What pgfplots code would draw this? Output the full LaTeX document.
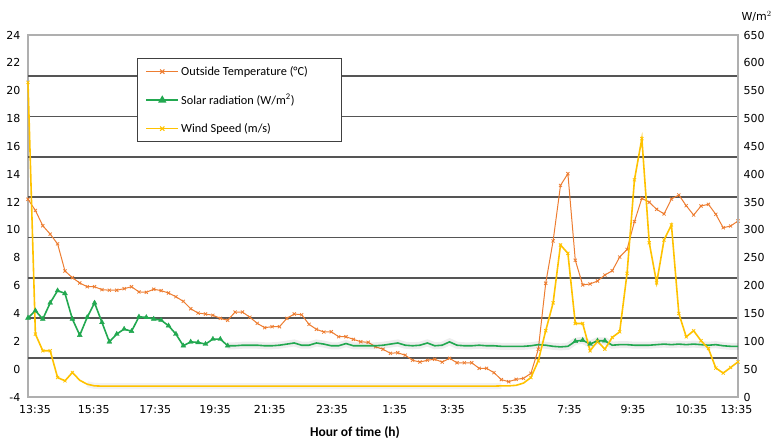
\documentclass[border=0pt]{standalone}
\usepackage{fontspec}
\setmainfont{Carlito}
\newfontfamily\dejavu{DejaVu Sans}
\usepackage{pgfplots}
\usepackage{pgfplotstable}
\pgfplotsset{compat=1.18}

\definecolor{tempc}{RGB}{237,125,49}
\definecolor{solarc}{RGB}{34,168,80}
\definecolor{windc}{RGB}{255,194,0}
\definecolor{gridc}{RGB}{85,85,85}
\definecolor{axisc}{RGB}{175,175,175}

% 15 min steps, 13:35 -> 13:35 next day
\pgfplotstableread{
i  temp   solar wind
0  12.2   142   565
1  11.4   155   113
2  10.3   140   83
3  9.7    169   83
4  9.0    191   35
5  7.05   186   29
6  6.57   140   44
7  6.19   111   30
8  5.92   143   23
9  5.92   169   20
10 5.71   134   19.5
11 5.67   99    19.5
12 5.67   113   19.5
13 5.78   122   19.5
14 5.92   118   19.5
15 5.55   144   19.5
16 5.52   143   19.5
17 5.74   140   19.5
18 5.64   138   19.5
19 5.47   128   19.5
20 5.2    113   19.5
21 4.87   92    19.5
22 4.34   99    19.5
23 4.03   98    19.5
24 3.96   95    19.5
25 3.87   104   19.5
26 3.65   104   19.5
27 3.51   92    19.5
28 4.1    92    19.5
29 4.1    93    19.5
30 3.73   93    19.5
31 3.29   93    19.5
32 2.98   92    19.5
33 3.05   92    19.5
34 3.05   93    19.5
35 3.65   95    19.5
36 3.96   97    19.5
37 3.91   93    19.5
38 3.22   93    19.5
39 2.86   97    19.5
40 2.67   95    19.5
41 2.69   92    19.5
42 2.33   92    19.5
43 2.33   96    19.5
44 2.14   92    19.5
45 1.97   92    19.5
46 1.93   92    19.5
47 1.61   92    19.5
48 1.43   93    19.5
49 1.14   95    19.5
50 1.18   97    19.5
51 1.0    93    19.5
52 0.64   92    19.5
53 0.51   93    19.5
54 0.64   97    19.5
55 0.71   92    19.5
56 0.51   93    19.5
57 0.78   99    19.5
58 0.46   93    19.5
59 0.46   92    19.5
60 0.46   92    19.5
61 0.06   93    19.5
62 0.06   92    19.5
63 -0.25  92    19.5
64 -0.75  91    20
65 -0.9   91    20
66 -0.73  91    21
67 -0.66  91    25
68 -0.3   92    35
69 1.43   94    65
70 6.17   93    119
71 9.21   91    169
72 13.2   90    273
73 14.04  91    258
74 7.82   100   132
75 6.05   102   132
76 6.12   95    83
77 6.33   101   100
78 6.76   101   86
79 7.07   93    107
80 8.05   94    117
81 8.6    94    222
82 10.6   93    390
83 12.27  93    464
84 11.99  93    277
85 11.48  94    205
86 11.15  95    282
87 12.22  94    309
88 12.51  95    150
89 11.74  94    108
90 11.07  95    119
91 11.72  94    101
92 11.84  93    87
93 11.12  94    52
94 10.16  92    43
95 10.28  91    53
96 10.64  91    63
}\weather

\pgfplotsset{
  base/.style={
    scale only axis, width=710pt, height=362pt,
    xmin=0, xmax=96,
    axis line style={draw=axisc, line width=1.2pt},
    major tick length=0pt,
    /pgf/number format/assume math mode=true,
    tick label style={font=\dejavu\fontsize{11}{13}\selectfont},
  },
}

\begin{document}
\begin{tikzpicture}
\path[use as bounding box] (-28pt,-43pt) rectangle (743pt,397pt);

\begin{axis}[base,
  ymin=-2, ymax=24,
  ytick={-2,0,2,4,6,8,10,12,14,16,18,20,22,24},
  yticklabels={-4,0,2,4,6,8,10,12,14,16,18,20,22,24},
  ytick pos=left, xtick pos=bottom,
  yticklabel style={xshift=-4pt},
  xtick={0.95,8.9,17.2,25.3,32.7,41.1,49.6,57.4,65.8,73.2,81.8,89.7,95.8},
  xticklabels={13:35,15:35,17:35,19:35,21:35,23:35,1:35,3:35,5:35,7:35,9:35,10:35,13:35},
  xticklabel style={yshift=-5pt},
  extra y ticks={0.80,3.68,6.55,9.46,12.37,15.24,18.15,21.06},
  extra y tick labels={},
  extra y tick style={grid=major, major grid style={draw=gridc, line width=1.2pt}},
  xlabel={Hour of time (h)},
  xlabel style={at={(rel axis cs:0.4606,0)}, anchor=center, yshift=-36pt,
    font=\bfseries\fontsize{13.5}{15}\selectfont},
]
\addplot[tempc, line width=1pt, mark=x, mark size=2.2pt,
  mark options={line width=0.8pt}] table[x=i, y=temp] {\weather};
\end{axis}

\begin{axis}[base,
  ymin=0, ymax=650, clip=false,
  axis x line=none, axis y line*=right,
  ytick={0,50,...,650},
  yticklabel style={xshift=2pt},
  legend style={at={(0.1535,0.9365)}, anchor=north west,
    draw=black!75, line width=0.8pt, fill=white,
    font=\fontsize{12.3}{14}\selectfont, row sep=13.5pt,
    inner xsep=8pt, inner ysep=6pt, cells={anchor=west}},
  legend image code/.code={
    \draw[mark repeat=2, mark phase=2, #1]
      plot coordinates {(0pt,0pt) (16pt,0pt) (32pt,0pt)};},
]
% soft grey glow under the flat parts
\addplot[black, opacity=0.07, line width=7pt, forget plot,
  restrict x to domain=27:96] table[x=i, y=solar] {\weather};
\addplot[black, opacity=0.05, line width=6pt, forget plot,
  restrict x to domain=8:64] table[x=i, y=wind] {\weather};

\addplot[solarc, line width=1.6pt, forget plot] table[x=i, y=solar] {\weather};
\addplot[solarc, only marks, mark=triangle*, mark size=2.8pt, forget plot,
  restrict x to domain=0:27] table[x=i, y=solar] {\weather};
\addplot[solarc, only marks, mark=triangle*, mark size=2.8pt, forget plot,
  restrict x to domain=74:78] table[x=i, y=solar] {\weather};

\addplot[windc, line width=1.6pt, forget plot] table[x=i, y=wind] {\weather};
\addplot[windc, only marks, mark=x, mark size=2.2pt, mark options={line width=0.8pt},
  forget plot, restrict x to domain=0:6] table[x=i, y=wind] {\weather};
\addplot[windc, only marks, mark=x, mark size=2.2pt, mark options={line width=0.8pt},
  forget plot, restrict x to domain=68:96] table[x=i, y=wind] {\weather};

\addlegendimage{tempc, line width=1.3pt, mark=x, mark size=3pt, mark options={line width=1pt}}
\addlegendentry{\makebox[150pt][l]{Outside Temperature (°C)}}
\addlegendimage{solarc, line width=1.8pt, mark=triangle*, mark size=3pt}
\addlegendentry{Solar radiation (W/m\textsuperscript{2})}
\addlegendimage{windc, line width=1.8pt, mark=x, mark size=3pt, mark options={line width=1pt}}
\addlegendentry{Wind Speed (m/s)}

\node[anchor=base west, font=\dejavu\fontsize{11}{13}\selectfont]
  at ([yshift=15pt]rel axis cs:1,1) {W/m$^2$};
\end{axis}
\end{tikzpicture}
\end{document}
